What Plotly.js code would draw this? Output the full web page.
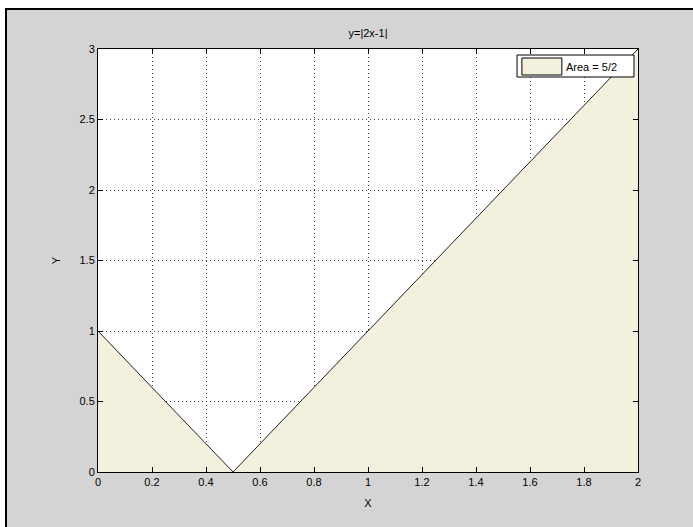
<!DOCTYPE html>
<html>
<head>
<meta charset="utf-8">
<script src="https://cdn.plot.ly/plotly-3.0.1.min.js"></script>
<style>
html, body { margin:0; padding:0; background:#ffffff; }
#frame { position:absolute; left:5px; top:8px; width:688px; height:519px; background:#d4d4d4; border-left:2px solid #000; border-top:2px solid #000; }
#chart { position:absolute; left:0; top:0; width:693px; height:527px; }
</style>
</head>
<body>
<div id="frame"></div>
<div id="chart"></div>
<script>
// Data
var xVals = [0, 0.5, 2];
var yVals = [1, 0, 3];
var seriesName = 'Area = 5/2';
var xTicks = [0, 0.2, 0.4, 0.6, 0.8, 1, 1.2, 1.4, 1.6, 1.8, 2];
var xTickText = ['0', '0.2', '0.4', '0.6', '0.8', '1', '1.2', '1.4', '1.6', '1.8', '2'];
var yTicks = [0, 0.5, 1, 1.5, 2, 2.5, 3];
var yTickText = ['0', '0.5', '1', '1.5', '2', '2.5', '3'];
var titleText = 'y=|2x-1|';
var xLabel = 'X';
var yLabel = 'Y';

var font = {family: 'Liberation Sans, Arial, sans-serif', size: 11, color: '#000'};
var fillColor = '#f3f1de';

var trace = {
  x: xVals, y: yVals, type: 'scatter', mode: 'lines',
  fill: 'tozeroy', fillcolor: fillColor,
  line: {color: '#222', width: 1},
  name: seriesName, showlegend: false
};

var axisCommon = {
  showline: true, linecolor: '#000', linewidth: 1, mirror: 'ticks',
  ticks: 'inside', ticklen: 5, tickcolor: '#000', tickwidth: 1,
  showgrid: true, gridcolor: '#444', gridwidth: 1, griddash: '1px,3px',
  zeroline: false, tickfont: font, layer: 'above traces'
};

var layout = {
  width: 693, height: 527,
  margin: {l: 98, r: 55, t: 49, b: 55},
  paper_bgcolor: 'rgba(0,0,0,0)', plot_bgcolor: '#ffffff',
  font: font,
  title: {text: titleText, font: font, x: 0.5, xref: 'paper', y: 1, yref: 'paper', yanchor: 'bottom', pad: {b: 12}},
  xaxis: Object.assign({}, axisCommon, {range: [0, 2], tickvals: xTicks, ticktext: xTickText,
    title: {text: xLabel, font: font, standoff: 12}}),
  yaxis: Object.assign({}, axisCommon, {range: [0, 3], tickvals: yTicks, ticktext: yTickText,
    title: {text: yLabel, font: font, standoff: 16}}),
  showlegend: false,
  shapes: [
    {type: 'rect', xref: 'paper', yref: 'paper', x0: 0.776, x1: 0.9926, y0: 0.9338, y1: 0.9858,
     fillcolor: '#ffffff', line: {color: '#000', width: 1}, layer: 'above'},
    {type: 'rect', xref: 'paper', yref: 'paper', x0: 0.785, x1: 0.859, y0: 0.9385, y1: 0.9787,
     fillcolor: fillColor, line: {color: '#000', width: 1}, layer: 'above'}
  ],
  annotations: [
    {xref: 'paper', yref: 'paper', x: 0.863, y: 0.9574, xanchor: 'left', yanchor: 'middle',
     text: seriesName, showarrow: false, font: font}
  ]
};

Plotly.newPlot('chart', [trace], layout, {displayModeBar: false, staticPlot: true});
</script>
</body>
</html>
